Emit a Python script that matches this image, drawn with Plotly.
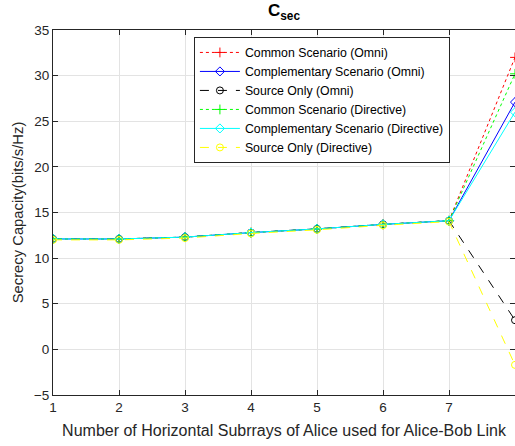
import plotly.graph_objects as go

# Number of horizontal subarrays of Alice used for the Alice-Bob link
subarrays = [1, 2, 3, 4, 5, 6, 7, 8]

# Secrecy capacity (bits/s/Hz) per scenario
common_omni = [12.1, 12.1, 12.3, 12.8, 13.2, 13.7, 14.1, 32.0]
complementary_omni = [12.1, 12.1, 12.3, 12.8, 13.2, 13.7, 14.1, 27.1]
source_omni = [12.1, 12.1, 12.3, 12.8, 13.2, 13.7, 14.1, 3.2]
common_directive = [12.1, 12.1, 12.3, 12.8, 13.2, 13.7, 14.1, 30.2]
complementary_directive = [12.1, 12.1, 12.3, 12.8, 13.2, 13.7, 14.1, 26.0]
source_directive = [12.0, 12.0, 12.2, 12.7, 13.1, 13.6, 14.0, -1.7]

x_ticks = [1, 2, 3, 4, 5, 6, 7, 8]
y_ticks = [-5, 0, 5, 10, 15, 20, 25, 30, 35]

series = [
    ("Common Scenario (Omni)", common_omni, "#ff0000", "dot", "cross-thin-open"),
    ("Complementary Scenario (Omni)", complementary_omni, "#0000ff", "solid", "diamond-open"),
    ("Source Only (Omni)", source_omni, "#000000", "dash", "circle-open"),
    ("Common Scenario (Directive)", common_directive, "#00ff00", "dot", "cross-thin-open"),
    ("Complementary Scenario (Directive)", complementary_directive, "#00ffff", "solid", "diamond-open"),
    ("Source Only (Directive)", source_directive, "#ffff00", "dash", "circle-open"),
]

FONT = "Liberation Sans, Arial"

fig = go.Figure()
for name, vals, color, dash, symbol in series:
    fig.add_trace(go.Scatter(
        x=subarrays, y=vals, name=name, mode="lines+markers",
        line=dict(color=color, width=1, dash=dash),
        marker=dict(symbol=symbol, size=7, color=color,
                    line=dict(color=color, width=1)),
    ))

axis_common = dict(
    showgrid=True, gridcolor="#e3e3e3", gridwidth=1,
    showline=True, linecolor="#262626", linewidth=1, mirror="ticks",
    ticks="inside", ticklen=5, tickcolor="#262626",
    tickfont=dict(family=FONT, size=13.5, color="#262626"),
    zeroline=False,
)

fig.update_layout(
    width=515, height=446,
    margin=dict(l=53, r=0, t=30, b=51),
    paper_bgcolor="white", plot_bgcolor="white",
    title=dict(text="<b>C<sub>sec</sub></b>", x=284 / 515, xanchor="center",
               y=0.99, yanchor="top",
               font=dict(family=FONT, size=17, color="#000000")),
    xaxis=dict(axis_common, range=[1, 8], tickvals=x_ticks,
               title=dict(text="Number of Horizontal Subrrays of Alice used for Alice-Bob Link",
                          font=dict(family=FONT, size=16, color="#262626"),
                          standoff=10)),
    yaxis=dict(axis_common, range=[-5, 35], tickvals=y_ticks,
               title=dict(text="Secrecy Capacity(bits/s/Hz)",
                          font=dict(family=FONT, size=14.8, color="#262626"),
                          standoff=6)),
    legend=dict(x=0.305, y=0.981, xanchor="left", yanchor="top",
                bgcolor="white", bordercolor="#262626", borderwidth=1,
                font=dict(family=FONT, size=12.3, color="#000000"),
                tracegroupgap=0, itemwidth=40),
    showlegend=True,
)

fig.write_html("out.html")
